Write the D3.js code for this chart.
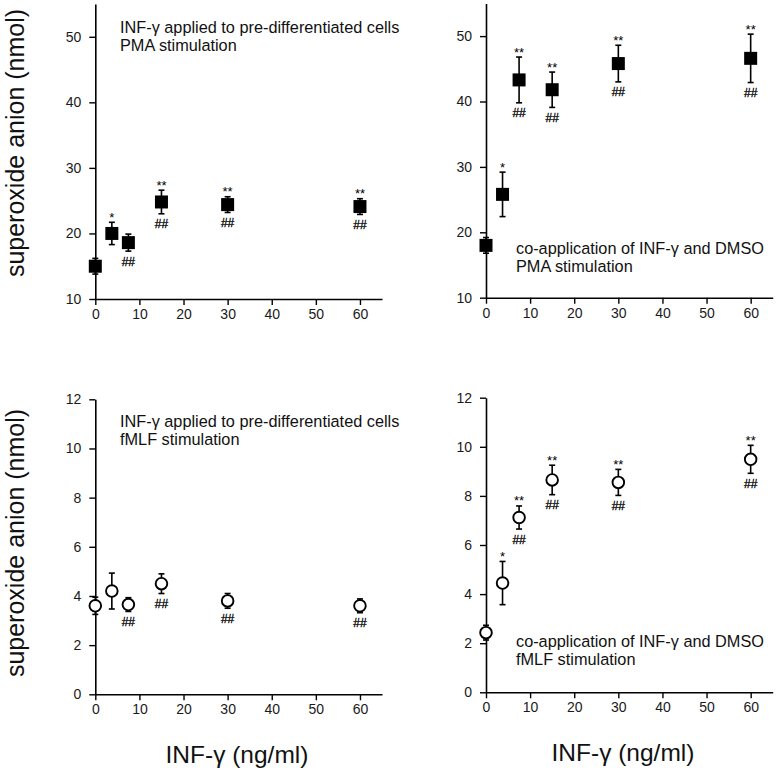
<!DOCTYPE html>
<html>
<head>
<meta charset="utf-8">
<script src="https://cdn.jsdelivr.net/npm/d3@7"></script>
<style>
  html, body { margin: 0; padding: 0; background: #fff; }
  svg { display: block; font-family: "Liberation Sans", Arial, sans-serif; }
</style>
</head>
<body>
<svg id="chart" width="776" height="772"></svg>
<script>
// ---------- data ----------
const doses = [0, 3.75, 7.5, 15, 30, 60];
const xTicks = [0, 10, 20, 30, 40, 50, 60];

const pmaPreMean = [15.0, 20.0, 18.6, 24.8, 24.4, 24.1];
const pmaPreErr  = [1.2, 1.7, 1.3, 1.8, 1.2, 1.2];
const pmaPreStar = ["", "*", "", "**", "**", "**"];
const pmaPreHash = ["", "", "##", "##", "##", "##"];

const pmaCoMean = [18.0, 25.8, 43.3, 41.8, 45.8, 46.6];
const pmaCoErr  = [1.2, 3.4, 3.5, 2.7, 2.8, 3.7];
const pmaCoStar = ["", "*", "**", "**", "**", "**"];
const pmaCoHash = ["", "", "##", "##", "##", "##"];

const fmlfPreMean = [3.6, 4.2, 3.65, 4.5, 3.8, 3.6];
const fmlfPreErr  = [0.35, 0.73, 0.28, 0.4, 0.3, 0.28];
const fmlfPreStar = ["", "", "", "", "", ""];
const fmlfPreHash = ["", "", "##", "##", "##", "##"];

const fmlfCoMean = [2.43, 4.45, 7.12, 8.65, 8.55, 9.49];
const fmlfCoErr  = [0.3, 0.88, 0.47, 0.6, 0.53, 0.57];
const fmlfCoStar = ["", "*", "**", "**", "**", "**"];
const fmlfCoHash = ["", "", "##", "##", "##", "##"];

const pmaYTicks = [10, 20, 30, 40, 50];
const fmlfYTicks = [0, 2, 4, 6, 8, 10, 12];

const yTitle = "superoxide anion (nmol)";
const xTitle = "INF-\u03b3 (ng/ml)";
const noteA1 = "INF-\u03b3 applied to pre-differentiated cells";
const noteB1 = "co-application of INF-\u03b3 and DMSO";
const notePMA = "PMA stimulation";
const noteFMLF = "fMLF stimulation";

// ---------- layout ----------
const svg = d3.select("#chart");
const panels = [
  { mean: pmaPreMean, err: pmaPreErr, star: pmaPreStar, hash: pmaPreHash, x0: 95.3, y0: 299, y1: 4, ydom: [10, 55], yticks: pmaYTicks, marker: "square", notes: [noteA1, notePMA], nx: 120, ny: 33 },
  { mean: pmaCoMean, err: pmaCoErr, star: pmaCoStar, hash: pmaCoHash, x0: 486, y0: 297.7, y1: 3.4, ydom: [10, 55], yticks: pmaYTicks, marker: "square", notes: [noteB1, notePMA], nx: 516, ny: 253.5 },
  { mean: fmlfPreMean, err: fmlfPreErr, star: fmlfPreStar, hash: fmlfPreHash, x0: 95.3, y0: 694.3, y1: 399.3, ydom: [0, 12], yticks: fmlfYTicks, marker: "circle", notes: [noteA1, noteFMLF], nx: 120, ny: 427 },
  { mean: fmlfCoMean, err: fmlfCoErr, star: fmlfCoStar, hash: fmlfCoHash, x0: 486, y0: 692.3, y1: 397.7, ydom: [0, 12], yticks: fmlfYTicks, marker: "circle", notes: [noteB1, noteFMLF], nx: 516, ny: 647 }
];

const pxPerDose = 4.411;

panels.forEach(p => {
  const x = d3.scaleLinear().domain([0, 65]).range([p.x0, p.x0 + 65 * pxPerDose]);
  const y = d3.scaleLinear().domain(p.ydom).range([p.y0, p.y1]);
  const g = svg.append("g");

  const xAxis = g.append("g").attr("transform", `translate(0,${p.y0})`)
    .call(d3.axisBottom(x).tickValues(xTicks).tickSize(6).tickSizeOuter(0).tickPadding(4).tickFormat(d3.format("d")));
  const yAxis = g.append("g").attr("transform", `translate(${p.x0},0)`)
    .call(d3.axisLeft(y).tickValues(p.yticks).tickSize(6).tickSizeOuter(0).tickPadding(8).tickFormat(d3.format("d")));
  [xAxis, yAxis].forEach(a => {
    a.select(".domain").attr("stroke", "#000").attr("stroke-width", 1.6);
    a.selectAll(".tick line").attr("stroke", "#000").attr("stroke-width", 1.4);
    a.selectAll(".tick text").attr("fill", "#1a1a1a").style("font-size", "14px").style("font-family", "'Liberation Sans', Arial, sans-serif");
  });

  const pts = doses.map((d, i) => ({ d, m: p.mean[i], e: p.err[i], s: p.star[i], h: p.hash[i] }));

  // error bars
  const eb = g.append("g").attr("stroke", "#000").attr("stroke-width", 1.6);
  pts.forEach(pt => {
    const cx = x(pt.d);
    eb.append("line").attr("x1", cx).attr("x2", cx).attr("y1", y(pt.m + pt.e)).attr("y2", y(pt.m - pt.e));
    eb.append("line").attr("x1", cx - 3).attr("x2", cx + 3).attr("y1", y(pt.m + pt.e)).attr("y2", y(pt.m + pt.e));
    eb.append("line").attr("x1", cx - 3).attr("x2", cx + 3).attr("y1", y(pt.m - pt.e)).attr("y2", y(pt.m - pt.e));
  });

  // markers
  if (p.marker === "square") {
    g.selectAll("rect.mk").data(pts).join("rect").attr("class", "mk")
      .attr("x", d => x(d.d) - 6.5).attr("y", d => y(d.m) - 6.5)
      .attr("width", 13).attr("height", 13).attr("fill", "#000");
  } else {
    g.selectAll("circle.mk").data(pts).join("circle").attr("class", "mk")
      .attr("cx", d => x(d.d)).attr("cy", d => y(d.m)).attr("r", 5.8)
      .attr("fill", "#fff").attr("stroke", "#000").attr("stroke-width", 1.9);
  }

  // significance labels
  g.selectAll("text.star").data(pts.filter(d => d.s)).join("text").attr("class", "star")
    .attr("x", d => x(d.d)).attr("y", d => Math.min(y(d.m + d.e), y(d.m) - 6.5) - 0.5)
    .attr("text-anchor", "middle").style("font-size", "13px").attr("fill", "#000").text(d => d.s);
  g.selectAll("text.hash").data(pts.filter(d => d.h)).join("text").attr("class", "hash")
    .attr("x", d => x(d.d)).attr("y", d => Math.max(y(d.m - d.e), y(d.m) + 6.5) + 14.5)
    .attr("text-anchor", "middle").style("font-size", "12px").attr("fill", "#000")
    .attr("stroke", "#000").attr("stroke-width", 0.3).text(d => d.h);

  // notes
  p.notes.forEach((t, i) => {
    g.append("text").attr("x", p.nx).attr("y", p.ny + i * 18.3)
      .style("font-size", "16.3px").attr("fill", "#111").text(t);
  });
});

// axis titles
[143, 543].forEach(cy => {
  svg.append("text").attr("transform", `translate(24,${cy}) rotate(-90)`)
    .attr("text-anchor", "middle").style("font-size", "25px").attr("fill", "#111").text(yTitle);
});
[[237, 763], [623, 761]].forEach(([cx, cy]) => {
  svg.append("text").attr("x", cx).attr("y", cy)
    .attr("text-anchor", "middle").style("font-size", "24.5px").attr("fill", "#111").text(xTitle);
});
</script>
</body>
</html>
